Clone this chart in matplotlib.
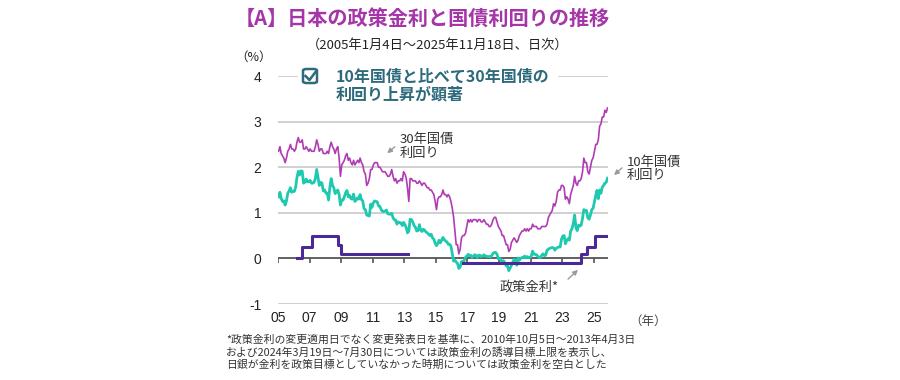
import matplotlib
matplotlib.use("Agg")
import matplotlib.pyplot as plt
import numpy as np
import pandas as pd
from matplotlib.patches import FancyBboxPatch, Rectangle
from matplotlib.lines import Line2D

plt.rcParams['font.family'] = ['Noto Sans CJK JP', 'DejaVu Sans']

# ---------------- data (monthly) ----------------
jgb10 = [
    1.35, 1.45, 1.32, 1.25, 1.26, 1.17, 1.26, 1.43, 1.48, 1.55, 1.45, 1.47,   # 2005
    1.47, 1.57, 1.77, 1.91, 1.83, 1.92, 1.91, 1.65, 1.67, 1.74, 1.68, 1.68,   # 2006
    1.71, 1.65, 1.65, 1.67, 1.75, 1.95, 1.78, 1.60, 1.67, 1.65, 1.48, 1.50,   # 2007
    1.43, 1.43, 1.28, 1.56, 1.75, 1.60, 1.55, 1.42, 1.47, 1.50, 1.40, 1.17,   # 2008
    1.28, 1.28, 1.35, 1.44, 1.49, 1.35, 1.38, 1.31, 1.30, 1.41, 1.25, 1.28,   # 2009
    1.33, 1.30, 1.40, 1.29, 1.26, 1.09, 1.07, 0.95, 0.94, 0.93, 1.19, 1.12,   # 2010
    1.22, 1.26, 1.25, 1.24, 1.15, 1.14, 1.07, 1.03, 1.03, 1.04, 1.06, 0.98,   # 2011
    0.97, 0.97, 0.99, 0.89, 0.85, 0.84, 0.75, 0.80, 0.78, 0.78, 0.72, 0.79,   # 2012
    0.74, 0.67, 0.56, 0.60, 0.86, 0.85, 0.80, 0.72, 0.68, 0.60, 0.61, 0.74,   # 2013
    0.62, 0.59, 0.64, 0.62, 0.58, 0.56, 0.53, 0.50, 0.53, 0.45, 0.42, 0.33,   # 2014
    0.28, 0.33, 0.40, 0.34, 0.40, 0.46, 0.41, 0.38, 0.36, 0.31, 0.31, 0.27,   # 2015
    0.10, -0.06, -0.04, -0.08, -0.11, -0.22, -0.19, -0.07, -0.08, -0.05, 0.02, 0.05,  # 2016
    0.09, 0.06, 0.07, 0.02, 0.05, 0.08, 0.07, 0.01, 0.07, 0.07, 0.04, 0.05,   # 2017
    0.08, 0.05, 0.05, 0.04, 0.04, 0.03, 0.06, 0.11, 0.13, 0.13, 0.09, -0.01,  # 2018
    0.00, -0.03, -0.09, -0.05, -0.10, -0.16, -0.16, -0.27, -0.21, -0.15, -0.08, -0.02,  # 2019
    -0.05, -0.15, 0.01, -0.04, 0.00, 0.02, 0.02, 0.05, 0.01, 0.04, 0.02, 0.02,  # 2020
    0.05, 0.16, 0.09, 0.09, 0.08, 0.05, 0.02, 0.02, 0.07, 0.10, 0.06, 0.07,   # 2021
    0.18, 0.20, 0.22, 0.23, 0.24, 0.23, 0.18, 0.22, 0.24, 0.25, 0.25, 0.42,   # 2022
    0.49, 0.50, 0.32, 0.39, 0.43, 0.40, 0.60, 0.65, 0.77, 0.95, 0.67, 0.61,   # 2023
    0.73, 0.71, 0.73, 0.88, 1.07, 1.05, 1.05, 0.89, 0.86, 0.95, 1.07, 1.10,   # 2024
    1.24, 1.38, 1.49, 1.31, 1.50, 1.43, 1.56, 1.60, 1.65, 1.67, 1.76,         # 2025
]
jgb30 = [
    2.35, 2.45, 2.30, 2.25, 2.20, 2.10, 2.20, 2.35, 2.40, 2.50, 2.40, 2.40,   # 2005
    2.35, 2.40, 2.55, 2.65, 2.55, 2.55, 2.60, 2.40, 2.40, 2.45, 2.40, 2.35,   # 2006
    2.40, 2.35, 2.35, 2.35, 2.45, 2.60, 2.50, 2.35, 2.40, 2.40, 2.30, 2.30,   # 2007
    2.30, 2.35, 2.30, 2.45, 2.55, 2.45, 2.40, 2.30, 2.40, 2.45, 2.20, 1.80,   # 2008
    2.05, 2.10, 2.15, 2.25, 2.30, 2.15, 2.20, 2.10, 2.05, 2.15, 2.05, 2.10,   # 2009
    2.15, 2.10, 2.20, 2.10, 2.05, 1.90, 1.85, 1.60, 1.65, 1.75, 1.95, 1.95,   # 2010
    2.05, 2.10, 2.10, 2.10, 2.00, 2.00, 1.95, 1.90, 1.90, 1.90, 1.85, 1.80,   # 2011
    1.80, 1.85, 1.95, 1.80, 1.70, 1.75, 1.65, 1.70, 1.70, 1.75, 1.70, 1.90,   # 2012
    1.85, 1.75, 1.55, 1.25, 1.75, 1.75, 1.70, 1.70, 1.70, 1.65, 1.65, 1.70,   # 2013
    1.65, 1.60, 1.65, 1.65, 1.60, 1.55, 1.55, 1.50, 1.50, 1.45, 1.40, 1.25,   # 2014
    1.07, 1.30, 1.35, 1.35, 1.40, 1.50, 1.40, 1.40, 1.35, 1.40, 1.35, 1.25,   # 2015
    1.10, 0.90, 0.60, 0.30, 0.30, 0.10, 0.20, 0.45, 0.50, 0.50, 0.55, 0.70,   # 2016
    0.85, 0.80, 0.85, 0.80, 0.85, 0.85, 0.85, 0.80, 0.85, 0.85, 0.80, 0.80,   # 2017
    0.85, 0.80, 0.75, 0.75, 0.70, 0.70, 0.75, 0.85, 0.90, 0.90, 0.80, 0.70,   # 2018
    0.65, 0.60, 0.50, 0.50, 0.40, 0.30, 0.30, 0.15, 0.20, 0.35, 0.40, 0.45,   # 2019
    0.40, 0.35, 0.40, 0.50, 0.55, 0.60, 0.60, 0.65, 0.60, 0.65, 0.60, 0.65,   # 2020
    0.65, 0.75, 0.70, 0.70, 0.70, 0.65, 0.65, 0.65, 0.70, 0.70, 0.70, 0.70,   # 2021
    0.75, 0.90, 0.95, 1.00, 1.05, 1.20, 1.15, 1.25, 1.45, 1.50, 1.50, 1.60,   # 2022
    1.60, 1.55, 1.30, 1.35, 1.30, 1.20, 1.40, 1.50, 1.60, 1.80, 1.65, 1.60,   # 2023
    1.70, 1.70, 1.75, 1.90, 2.20, 2.10, 2.10, 1.90, 1.85, 2.00, 2.15, 2.20,   # 2024
    2.35, 2.50, 2.50, 2.60, 2.90, 2.95, 3.10, 3.10, 3.25, 3.20, 3.30,         # 2025
]
months = pd.date_range("2005-01-01", periods=len(jgb10), freq="MS") + pd.Timedelta(days=14)

policy_dates = ["2006-03-09", "2006-07-14", "2007-02-21", "2008-10-31", "2008-12-19",
                "2013-04-04", "2013-04-05",
                "2016-09-21", "2024-03-19", "2024-07-31", "2025-01-24", "2025-11-18"]
policy_vals = [0.0, 0.25, 0.5, 0.3, 0.1,
               0.1, np.nan,
               -0.1, 0.1, 0.25, 0.5, 0.5]

year_ticks = list(range(2005, 2026, 2))
year_labels = ["05", "07", "09", "11", "13", "15", "17", "19", "21", "23", "25"]
y_ticks = [-1, 0, 1, 2, 3, 4]

# ---------------- figure ----------------
W, H = 900, 380
fig = plt.figure(figsize=(W / 100, H / 100), dpi=100)
fig.patch.set_facecolor("white")

def px(x, y):
    return (x / W, 1 - y / H)

ax = fig.add_axes([278 / W, 1 - 304 / H, (608 - 278) / W, (304 - 76) / H])
ax.set_xlim(pd.Timestamp("2005-01-01"), pd.Timestamp("2025-11-25"))
ax.set_ylim(-1, 4)
for s in ax.spines.values():
    s.set_visible(False)

for yv in [-1, 1, 2, 3, 4]:
    ax.axhline(yv, color="#c4c4c4", lw=1.1, zorder=0)
ax.axhline(0, color="#555555", lw=1.3, zorder=1)

tick_dates = [pd.Timestamp(f"{y}-01-01") for y in year_ticks]
ax.set_xticks(tick_dates)
ax.set_xticklabels(year_labels, fontsize=10, family=["Liberation Sans", "DejaVu Sans"], color="#222222")
ax.tick_params(axis="x", length=0, pad=5)
for d in tick_dates:
    ax.plot([d, d], [0, -0.09], color="#555555", lw=1.2, zorder=1, solid_capstyle="butt")

ax.set_yticks(y_ticks)
ax.set_yticklabels([str(v) for v in y_ticks], fontsize=10, family=["Liberation Sans", "DejaVu Sans"], color="#222222")
ax.tick_params(axis="y", length=0, pad=12)

ax.plot(months, jgb30, color="#b03cb4", lw=1.2, zorder=3)
ax.plot(months, jgb10, color="#1fc9b0", lw=2.0, zorder=4)
ax.step(pd.to_datetime(policy_dates), policy_vals, where="post", color="#4a2a96", lw=2.2, zorder=5)

# ---------------- texts ----------------
fig.text(*px(422, 18), "【A】日本の政策金利と国債利回りの推移", ha="center", va="center",
         fontsize=14.5, fontweight="bold", color="#a535a8")
fig.text(*px(438, 45), "（2005年1月4日～2025年11月18日、日次）", ha="center", va="center",
         fontsize=9.5, color="#222222")
fig.text(*px(254, 57), "（%）", ha="center", va="center", fontsize=9, color="#222222")
fig.text(*px(648, 321), "（年）", ha="center", va="center", fontsize=9, color="#444444")

# callout box
box_col = "#2d6a7c"
fig.patches.append(Rectangle(px(298, 94), 260 / W, 34 / H, transform=fig.transFigure,
                             facecolor="white", edgecolor="none", zorder=2))
fig.text(*px(336, 86), "10年国債と比べて30年国債の\n利回り上昇が顕著", ha="left", va="center",
         fontsize=11.5, fontweight="bold", color=box_col, linespacing=1.15, zorder=12)
fig.patches.append(FancyBboxPatch(px(303, 83), 14 / W, 14 / H, transform=fig.transFigure,
                                  boxstyle="round,pad=0,rounding_size=0.004",
                                  facecolor="white", edgecolor=box_col, lw=1.8, zorder=10))
fig.lines.append(Line2D([305.5 / W, 309.5 / W, 315.5 / W], [1 - 76 / H, 1 - 80 / H, 1 - 72 / H],
                        transform=fig.transFigure, color=box_col, lw=1.8, zorder=11))

# series labels with arrows
lab_col = "#333333"
fig.text(*px(400, 146), "30年国債\n利回り", ha="left", va="center", fontsize=9.5,
         color=lab_col, linespacing=1.1)
fig.text(*px(627, 169), "10年国債\n利回り", ha="left", va="center", fontsize=9.5,
         color=lab_col, linespacing=1.1)
fig.text(*px(500, 287), "政策金利*", ha="left", va="center", fontsize=9.5, color=lab_col)

arrow = dict(arrowstyle="-|>", color="#9a9a9a", lw=1.0, mutation_scale=7)
for tail, tip in [((397, 145), (385, 155)), ((624, 166), (612, 177)), ((566, 281), (580, 268))]:
    ax.annotate("", xy=px(*tip), xycoords="figure fraction",
                xytext=px(*tail), textcoords="figure fraction", arrowprops=arrow)

# footnote
foot = ("*政策金利の変更適用日でなく変更発表日を基準に、2010年10月5日～2013年4月3日\n"
        "および2024年3月19日～7月30日については政策金利の誘導目標上限を表示し、\n"
        "日銀が金利を政策目標としていなかった時期については政策金利を空白とした")
fig.text(*px(226, 352), foot, ha="left", va="center", fontsize=7.8, color="#333333",
         linespacing=1.25)

fig.savefig("out.png", dpi=100, facecolor="white")
